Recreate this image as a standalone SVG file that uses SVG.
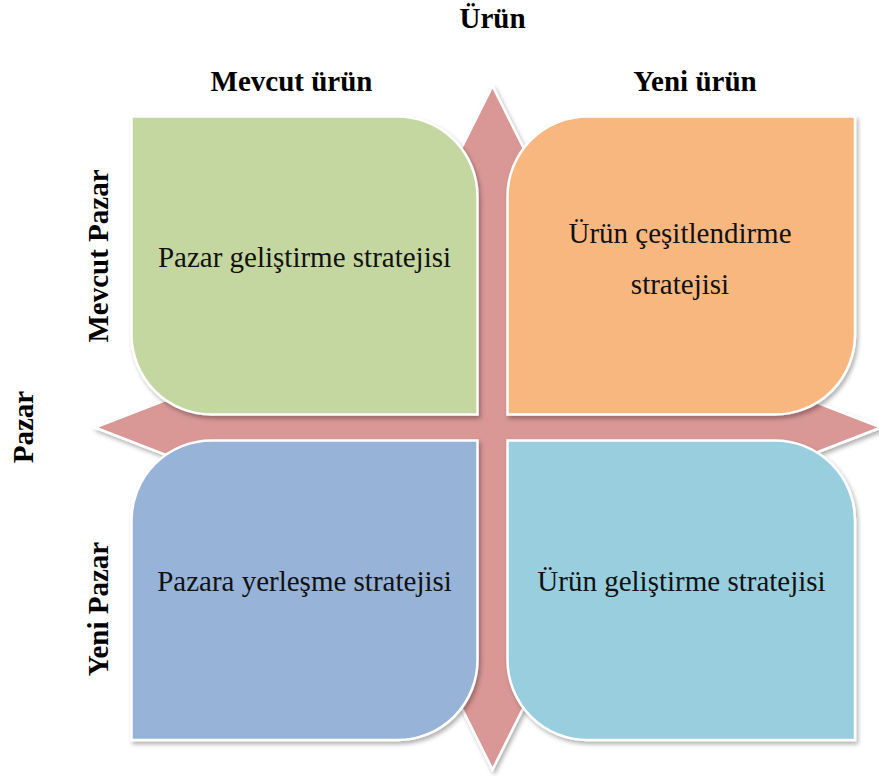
<svg xmlns="http://www.w3.org/2000/svg" width="879" height="776" viewBox="0 0 879 776">
<defs>
<filter id="sh" x="-10%" y="-10%" width="120%" height="120%">
<feDropShadow dx="2" dy="3" stdDeviation="2" flood-color="#000" flood-opacity="0.3"/>
</filter>
</defs>
<style>
.box{stroke:#fff;stroke-width:2.5;filter:url(#sh)}
.lbl{font-family:"Liberation Serif","Times New Roman",serif;font-weight:bold;font-size:29px;fill:#000}
.txt{font-family:"Liberation Serif","Times New Roman",serif;font-size:29px;fill:#111;text-anchor:middle}
</style>
<rect width="879" height="776" fill="#fff"/>
<g id="connectors">
<polygon class="box" fill="#D99795" points="492.5,86 562.5,226 514.5,226 514.5,405.5 711,405.5 711,361.5 881,427.5 711,493.5 711,449.5 514.5,449.5 514.5,629.5 562.5,629.5 492.5,769.5 422.5,629.5 470.5,629.5 470.5,449.5 265,449.5 265,493.5 95,427.5 265,361.5 265,405.5 470.5,405.5 470.5,226 422.5,226"/>
</g>
<g id="box-green">
<path class="box" fill="#C5D7A0" d="M131.5,116.5 H397.5 A80,80 0 0 1 477.5,196.5 V414.5 H211.5 A80,80 0 0 1 131.5,334.5 Z"/>
<text class="txt" x="304.5" y="267">Pazar geliştirme stratejisi</text>
</g>
<g id="box-orange">
<path class="box" fill="#F9B780" d="M587.5,116.5 H855 V334.5 A80,80 0 0 1 775,414.5 H507.5 V196.5 A80,80 0 0 1 587.5,116.5 Z"/>
<text class="txt" x="680" y="243">Ürün çeşitlendirme</text>
<text class="txt" x="680" y="294">stratejisi</text>
</g>
<g id="box-blue">
<path class="box" fill="#97B3D8" d="M211.5,440.5 H477.5 V660 A80,80 0 0 1 397.5,740 H131.5 V520.5 A80,80 0 0 1 211.5,440.5 Z"/>
<text class="txt" x="304.5" y="591">Pazara yerleşme stratejisi</text>
</g>
<g id="box-teal">
<path class="box" fill="#98CEDE" d="M507.5,440.5 H775 A80,80 0 0 1 855,520.5 V740 H587.5 A80,80 0 0 1 507.5,660 Z"/>
<text class="txt" x="681.5" y="591">Ürün geliştirme stratejisi</text>
</g>
<g id="labels">
<text class="lbl" x="492.5" y="28" text-anchor="middle" font-size="28">Ürün</text>
<text class="lbl" x="291.5" y="91" text-anchor="middle">Mevcut ürün</text>
<text class="lbl" x="695" y="91" text-anchor="middle">Yeni ürün</text>
<text class="lbl" transform="translate(33,427) rotate(-90)" text-anchor="middle">Pazar</text>
<text class="lbl" transform="translate(108,256) rotate(-90)" text-anchor="middle">Mevcut Pazar</text>
<text class="lbl" transform="translate(108,609) rotate(-90)" text-anchor="middle">Yeni Pazar</text>
</g>
</svg>
